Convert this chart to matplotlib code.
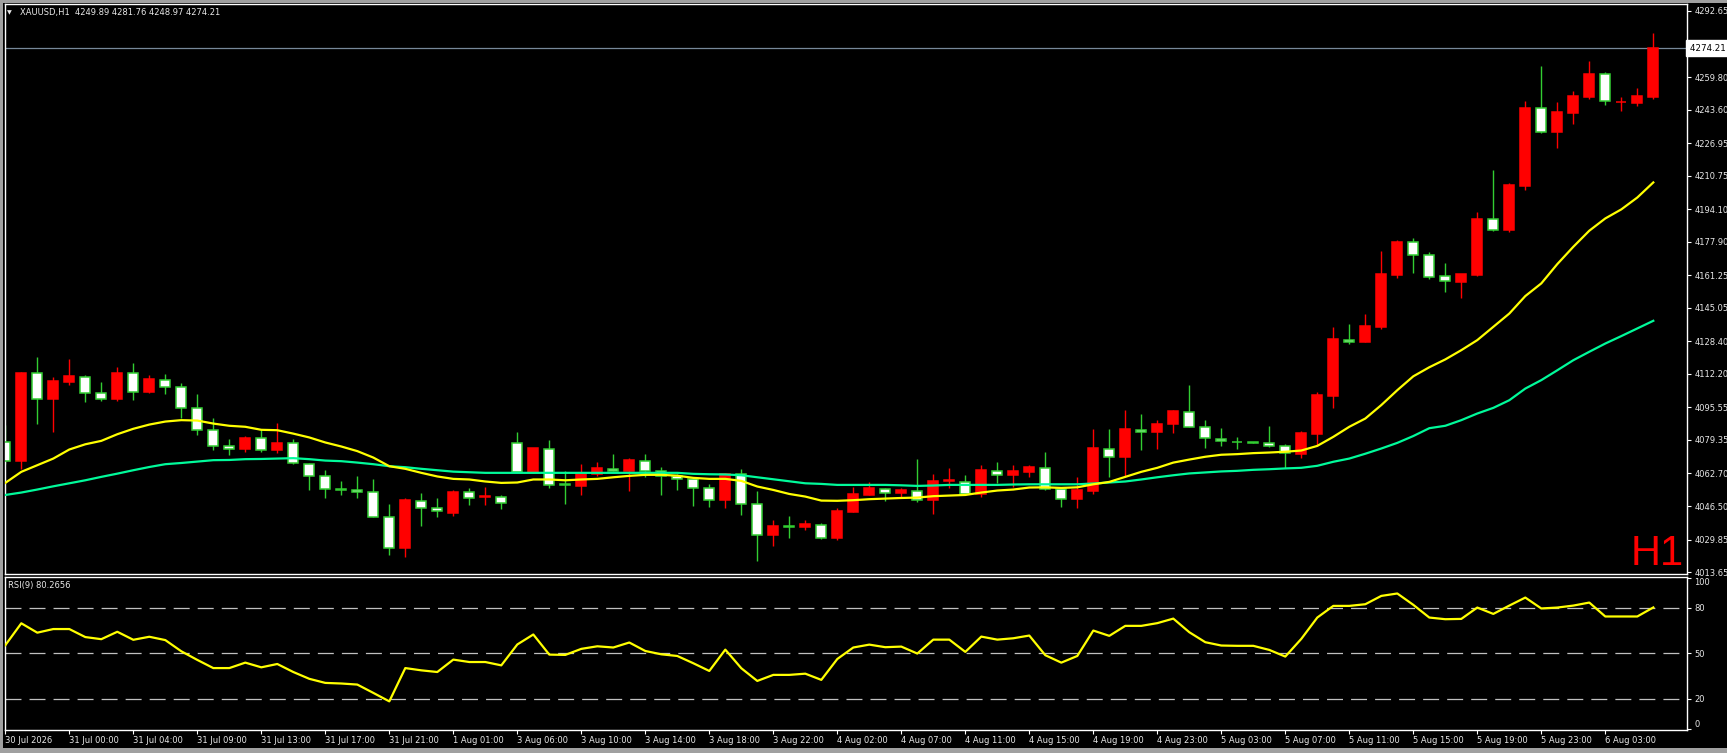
import matplotlib
matplotlib.use("Agg")
import matplotlib.pyplot as plt
import matplotlib.transforms as mtransforms
from matplotlib.patches import Rectangle

# XAUUSD H1 candles (open, high, low, close per bar)
opens = [4078.1, 4069.0, 4112.4, 4099.8, 4108.2, 4110.9, 4102.9, 4099.8, 4112.4, 4103.3,
         4109.4, 4105.9, 4095.0, 4084.5, 4076.1, 4074.9, 4080.1, 4074.4, 4077.6, 4067.6,
         4061.2, 4055.0, 4054.7, 4053.7, 4040.8, 4025.7, 4049.2, 4045.7, 4043.1, 4053.7,
         4051.0, 4051.2, 4077.6, 4063.6, 4075.1, 4057.1, 4056.5, 4062.3, 4065.1, 4063.8,
         4069.1, 4064.0, 4061.3, 4059.7, 4055.7, 4049.6, 4062.6, 4047.7, 4032.1, 4036.3,
         4036.1, 4037.3, 4030.6, 4043.6, 4052.0, 4055.2, 4053.0, 4054.2, 4049.6, 4059.1,
         4058.5, 4052.7, 4064.1, 4061.8, 4063.5, 4065.6, 4055.2, 4050.0, 4054.0, 4075.1,
         4070.9, 4084.5, 4083.4, 4087.4, 4093.5, 4086.0, 4079.9, 4078.3, 4078.1, 4077.9,
         4076.1, 4072.6, 4082.2, 4101.1, 4129.2, 4128.2, 4135.5, 4161.5, 4177.6, 4171.1,
         4160.8, 4158.0, 4161.3, 4189.0, 4183.9, 4205.8, 4244.2, 4232.6, 4241.9, 4249.9,
         4261.3, 4247.2, 4247.0, 4249.89]
highs = [4087.0, 4112.9, 4120.5, 4110.6, 4119.5, 4111.6, 4108.1, 4115.5, 4117.5, 4111.6,
         4112.1, 4107.6, 4102.1, 4090.5, 4079.7, 4081.5, 4084.9, 4087.7, 4079.7, 4067.8,
         4064.3, 4058.8, 4061.3, 4059.8, 4047.4, 4050.4, 4052.9, 4050.4, 4054.7, 4055.4,
         4055.9, 4051.9, 4083.2, 4075.6, 4079.2, 4063.8, 4067.3, 4068.3, 4072.3, 4070.3,
         4072.3, 4065.8, 4062.3, 4059.9, 4057.3, 4063.1, 4064.8, 4053.9, 4039.4, 4041.4,
         4039.4, 4037.9, 4045.4, 4055.9, 4058.3, 4055.3, 4055.7, 4069.8, 4062.3, 4065.3,
         4061.8, 4066.8, 4068.3, 4066.8, 4066.8, 4073.3, 4055.3, 4060.8, 4084.7, 4084.7,
         4094.1, 4092.2, 4089.2, 4094.3, 4106.6, 4089.2, 4085.2, 4080.7, 4078.2, 4086.2,
         4077.3, 4083.7, 4103.1, 4135.5, 4137.0, 4141.9, 4173.3, 4178.7, 4179.7, 4172.8,
         4167.1, 4161.9, 4192.7, 4213.6, 4207.1, 4247.9, 4265.3, 4247.4, 4253.0, 4267.8,
         4262.5, 4249.9, 4254.3, 4281.76]
lows = [4067.6, 4065.0, 4087.3, 4083.4, 4106.7, 4098.3, 4098.8, 4098.8, 4099.3, 4102.8,
        4102.3, 4090.3, 4081.9, 4074.4, 4071.9, 4073.6, 4073.4, 4072.8, 4067.3, 4054.5,
        4050.5, 4051.9, 4050.5, 4040.8, 4022.2, 4021.2, 4036.6, 4041.1, 4041.6, 4047.1,
        4047.1, 4045.1, 4063.6, 4063.0, 4055.5, 4047.6, 4051.9, 4061.5, 4063.8, 4053.9,
        4060.8, 4051.9, 4054.4, 4046.6, 4046.1, 4045.6, 4042.1, 4019.2, 4026.7, 4030.6,
        4034.6, 4030.1, 4029.5, 4043.5, 4051.9, 4049.1, 4051.0, 4048.6, 4042.6, 4055.5,
        4052.6, 4051.0, 4057.7, 4056.0, 4061.0, 4054.4, 4046.1, 4045.6, 4052.5, 4060.8,
        4061.0, 4074.4, 4074.9, 4082.7, 4086.0, 4075.4, 4076.4, 4074.9, 4077.9, 4076.0,
        4065.2, 4070.3, 4076.9, 4095.3, 4127.2, 4128.1, 4134.5, 4160.0, 4162.5, 4159.2,
        4153.0, 4150.0, 4160.8, 4183.4, 4182.9, 4203.8, 4232.1, 4224.7, 4236.6, 4249.0,
        4246.1, 4243.1, 4245.6, 4248.97]
closes = [4069.0, 4112.4, 4099.9, 4108.6, 4111.1, 4102.9, 4099.9, 4112.6, 4103.4, 4109.6,
          4105.9, 4095.0, 4084.5, 4076.1, 4075.1, 4080.2, 4074.6, 4077.7, 4068.1, 4061.2,
          4055.0, 4054.7, 4053.7, 4040.8, 4025.8, 4049.4, 4045.7, 4043.8, 4053.7, 4050.7,
          4051.1, 4048.2, 4063.6, 4075.3, 4057.2, 4057.0, 4062.5, 4065.3, 4064.1, 4069.3,
          4064.0, 4061.3, 4059.7, 4055.5, 4049.7, 4062.2, 4047.7, 4032.3, 4036.4, 4036.2,
          4037.4, 4030.8, 4043.9, 4052.4, 4055.4, 4053.0, 4054.4, 4049.7, 4058.8, 4059.2,
          4052.7, 4064.3, 4062.1, 4063.8, 4065.8, 4055.2, 4050.2, 4054.4, 4075.2, 4071.1,
          4084.7, 4083.5, 4087.5, 4093.7, 4086.0, 4080.1, 4078.6, 4078.2, 4078.0, 4076.1,
          4072.8, 4082.6, 4101.6, 4129.5, 4128.3, 4136.0, 4161.8, 4177.7, 4171.1, 4160.5,
          4158.3, 4161.8, 4189.2, 4184.0, 4206.1, 4244.2, 4232.6, 4242.4, 4250.4, 4261.3,
          4247.7, 4247.3, 4250.4, 4274.21]

# moving averages as drawn on the chart
ma_fast = [4058.0, 4063.5, 4066.8, 4070.1, 4074.6, 4077.2, 4078.9, 4082.2, 4084.9, 4087.0,
           4088.5, 4089.2, 4089.0, 4087.5, 4086.4, 4085.9, 4084.4, 4084.2, 4082.5, 4080.6,
           4078.1, 4076.1, 4073.8, 4070.6, 4066.3, 4065.0, 4063.0, 4061.2, 4060.0, 4059.7,
           4058.7, 4058.0, 4058.2, 4059.7, 4059.7, 4059.3, 4059.7, 4060.0, 4060.8, 4061.5,
           4062.0, 4062.0, 4061.6, 4060.5, 4060.0, 4060.0, 4059.0, 4056.2, 4054.5, 4052.5,
           4051.2, 4049.2, 4049.1, 4049.4, 4049.9, 4050.2, 4050.5, 4050.7, 4051.4, 4051.7,
           4052.0, 4053.2, 4054.2, 4054.7, 4055.7, 4055.8, 4055.5, 4055.8, 4057.3, 4058.5,
           4061.0, 4063.5, 4065.5, 4068.1, 4069.6, 4071.0, 4072.0, 4072.3, 4072.8, 4073.1,
           4073.5, 4074.1, 4076.4, 4080.9, 4085.9, 4090.0, 4096.7, 4104.1, 4111.0, 4115.5,
           4119.4, 4124.0, 4129.0, 4135.6, 4142.2, 4150.9, 4157.2, 4166.8, 4175.4, 4183.4,
           4189.5, 4194.0, 4199.9, 4207.4]
ma_slow = [4052.0, 4053.2, 4054.7, 4056.3, 4057.8, 4059.3, 4061.0, 4062.6, 4064.3, 4065.9,
           4067.3, 4067.9, 4068.6, 4069.3, 4069.4, 4069.8, 4069.9, 4070.1, 4070.3, 4069.8,
           4069.1, 4068.8, 4068.1, 4067.3, 4066.3, 4065.8, 4065.0, 4064.3, 4063.6, 4063.3,
           4063.0, 4063.0, 4063.0, 4063.0, 4063.0, 4063.0, 4063.0, 4063.0, 4063.0, 4063.0,
           4063.0, 4063.0, 4063.0, 4062.5, 4062.3, 4062.2, 4061.8, 4060.8, 4059.8, 4058.8,
           4057.8, 4057.5, 4057.0, 4057.0, 4057.0, 4057.0, 4056.8, 4056.5, 4056.7, 4057.0,
           4057.0, 4057.0, 4057.0, 4057.2, 4057.3, 4057.3, 4057.3, 4057.3, 4057.7, 4058.2,
           4058.7, 4059.7, 4060.8, 4061.8, 4062.7, 4063.2, 4063.7, 4064.0, 4064.5, 4064.8,
           4065.2, 4065.5, 4066.5, 4068.5, 4070.1, 4072.5, 4075.1, 4077.9, 4081.3, 4085.2,
           4086.4, 4089.2, 4092.5, 4095.3, 4099.1, 4104.9, 4109.1, 4114.0, 4119.0, 4123.2,
           4127.3, 4131.0, 4134.8, 4138.6]

rsi = [55.3, 69.8, 63.6, 66.0, 66.0, 60.7, 59.3, 64.2, 58.9, 60.9,
       58.7, 51.3, 45.6, 40.2, 40.2, 43.8, 40.7, 42.9, 37.6, 33.1,
       30.4, 30.0, 29.3, 23.8, 18.2, 40.2, 38.7, 37.6, 45.8, 44.2,
       44.2, 42.0, 55.8, 62.4, 49.1, 48.9, 52.9, 54.6, 53.8, 57.1,
       51.5, 49.3, 48.2, 43.4, 38.3, 52.4, 40.1, 31.7, 35.7, 35.7,
       36.5, 32.4, 46.2, 53.8, 55.7, 54.0, 54.4, 49.8, 59.0, 59.0,
       50.9, 61.0, 59.0, 59.9, 61.7, 48.7, 43.8, 48.2, 65.0, 61.5,
       68.1, 68.1, 69.9, 72.9, 63.9, 57.3, 55.1, 54.9, 54.9, 52.2,
       47.8, 59.5, 73.6, 81.3, 81.3, 82.4, 87.9, 89.5, 82.0, 73.6,
       72.5, 72.7, 80.2, 76.0, 81.5, 86.8, 79.6, 80.2, 81.5, 83.5,
       74.3, 74.3, 74.3, 80.27]
rsi_levels = [20, 50, 80]
rsi_ticks = [0, 20, 50, 80, 100]

price_ticks = [4292.65, 4276.45, 4259.80, 4243.60, 4226.95, 4210.75, 4194.10, 4177.90, 4161.25,
               4145.05, 4128.40, 4112.20, 4095.55, 4079.35, 4062.70, 4046.50, 4029.85, 4013.65]
time_labels = ["30 Jul 2026", "31 Jul 00:00", "31 Jul 04:00", "31 Jul 09:00", "31 Jul 13:00",
               "31 Jul 17:00", "31 Jul 21:00", "1 Aug 01:00", "3 Aug 06:00", "3 Aug 10:00",
               "3 Aug 14:00", "3 Aug 18:00", "3 Aug 22:00", "4 Aug 02:00", "4 Aug 07:00",
               "4 Aug 11:00", "4 Aug 15:00", "4 Aug 19:00", "4 Aug 23:00", "5 Aug 03:00",
               "5 Aug 07:00", "5 Aug 11:00", "5 Aug 15:00", "5 Aug 19:00", "5 Aug 23:00",
               "6 Aug 03:00"]
last_price = 4274.21

W, H = 1727, 753
BULL = "#ff0000"
BEAR_EDGE = "#32cd32"
FAST = "#ffff00"
SLOW = "#00fa9a"
FG = "#e8e8e8"

plt.rcParams['font.family'] = ['DejaVu Sans']
plt.rcParams['lines.scale_dashes'] = False

fig = plt.figure(figsize=(W / 100, H / 100), dpi=100, facecolor="black")


def box(x0, y0, x1, y1):
    # pixel box (top-left origin) -> figure fraction rect
    return [x0 / W, 1 - y1 / H, (x1 - x0) / W, (y1 - y0) / H]


ax = fig.add_axes(box(4.5, 4.3, 1687.3, 574.3))
ax_rsi = fig.add_axes(box(4.5, 577.3, 1687.3, 729.5))

n = len(closes)
xs = list(range(n))

for a in (ax, ax_rsi):
    a.set_facecolor("black")
    for sp in a.spines.values():
        sp.set_color("white")
        sp.set_linewidth(1.0)
    a.set_xlim(-0.05, 105.125)

# candles: red = close above open, white = close below open
for i in xs:
    up = closes[i] >= opens[i]
    col = BULL if up else BEAR_EDGE
    ax.vlines(i, lows[i], highs[i], colors=col, linewidth=1.0, zorder=2)
    lo = min(opens[i], closes[i])
    h = max(abs(closes[i] - opens[i]), 0.25)
    ax.add_patch(Rectangle((i - 0.31, lo), 0.62, h,
                           facecolor=BULL if up else "white",
                           edgecolor=col, linewidth=1.1, zorder=3))

ax.plot(xs, ma_slow, color=SLOW, linewidth=1.6, zorder=4)
ax.plot(xs, ma_fast, color=FAST, linewidth=1.6, zorder=4)
ax.axhline(last_price, color="#778899", linewidth=0.9, zorder=1)

ax.set_ylim(4012.55, 4295.98)
ax.yaxis.tick_right()
ax.set_yticks(price_ticks)
ax.set_yticklabels([f"{p:.2f}" for p in price_ticks])
ax.tick_params(axis="y", colors="white", labelcolor=FG, labelsize=6, length=3,
               width=0.8, pad=2, direction="out")
ax.set_xticks([])

trans = mtransforms.blended_transform_factory(ax.transAxes, ax.transData)
ax.text(1.0015, last_price, "4274.21 ", transform=trans, ha="left", va="center",
        fontsize=6.3, color="black", zorder=6, clip_on=False,
        bbox=dict(boxstyle="square,pad=0.4", facecolor="white", edgecolor="white"))

ax.text(0.9662, 0.016, "H1", transform=ax.transAxes, ha="left", va="baseline",
        fontsize=30, color="#ff0000", family="Liberation Sans", zorder=5)

# RSI panel
ax_rsi.plot(xs, rsi, color=FAST, linewidth=1.6, zorder=3)
for lv in rsi_levels:
    ax_rsi.axhline(lv, color="#c0c0c0", linewidth=0.9, linestyle=(0, (11.5, 5.8)), zorder=2)
ax_rsi.set_ylim(-0.4, 100.2)
ax_rsi.yaxis.tick_right()
ax_rsi.set_yticks(rsi_ticks)
ax_rsi.tick_params(axis="y", colors="white", labelcolor=FG, labelsize=6, length=3,
                   width=0.8, pad=2, direction="out")
ax_rsi.get_yticklabels()[-1].set_va("top")
ax_rsi.get_yticklabels()[0].set_va("bottom")
ax_rsi.set_xticks(list(range(0, 4 * len(time_labels), 4)))
ax_rsi.set_xticklabels(time_labels, ha="left")
ax_rsi.tick_params(axis="x", colors="white", labelcolor=FG, labelsize=6, length=3,
                   width=0.8, pad=2, direction="out")

fig.text(7 / W, 1 - 12.7 / H, "\u25bc", color=FG, fontsize=4.5, va="center", ha="left")
fig.text(20 / W, 1 - 12.7 / H, "XAUUSD,H1  4249.89 4281.76 4248.97 4274.21",
         color=FG, fontsize=6, va="center", ha="left")
fig.text(8 / W, 1 - 585.7 / H, "RSI(9) 80.2656", color=FG, fontsize=6, va="center", ha="left")

# window frame
for r in [(0, 0, W, 3), (0, 0, 3, H), (0, 748, W, H)]:
    x0, y0, x1, y1 = r
    fig.patches.append(Rectangle((x0 / W, 1 - y1 / H), (x1 - x0) / W, (y1 - y0) / H,
                                 transform=fig.transFigure, facecolor="#a0a0a0",
                                 edgecolor="none", zorder=0))

fig.savefig("out.png", dpi=100, facecolor="black")
